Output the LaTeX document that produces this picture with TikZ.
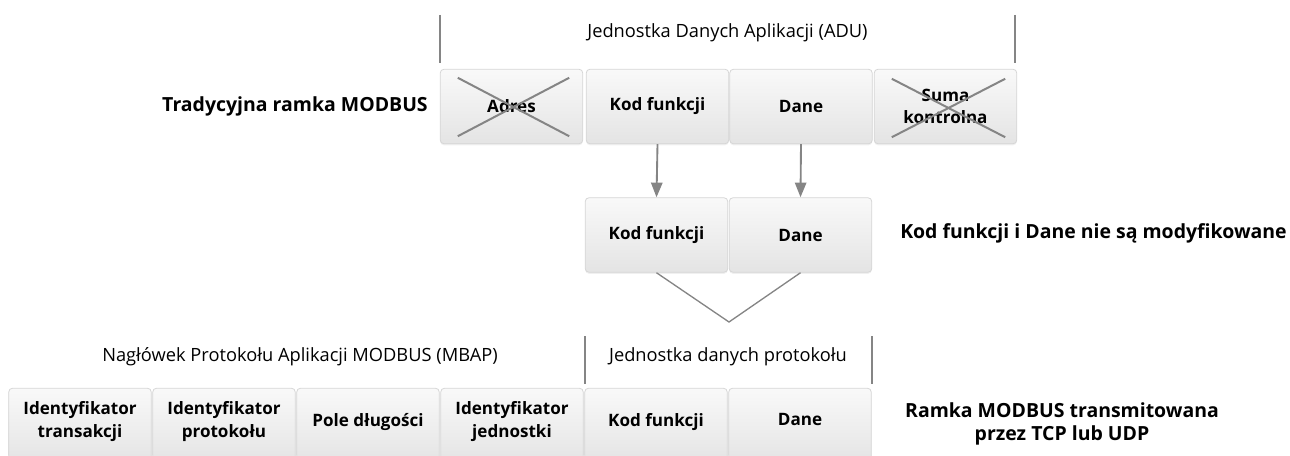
\documentclass[tikz,border=0pt]{standalone}
\usepackage{fontspec}
\setmainfont{Open Sans}
\usetikzlibrary{calc,arrows.meta,shadows}
\definecolor{linegray}{HTML}{858585}
\definecolor{boxtop}{HTML}{F9F9F9}
\definecolor{boxbot}{HTML}{E4E4E4}
\definecolor{boxedge}{HTML}{D6D6D6}
\tikzset{
  fieldbox/.style={draw=boxedge, line width=0.6pt, rounded corners=3pt,
    top color=boxtop, bottom color=boxbot, minimum width=107pt,
    minimum height=56pt, align=center, inner sep=1pt,
    font=\fontsize{12.8pt}{17pt}\selectfont\bfseries,
    drop shadow={opacity=0.12, shadow xshift=0pt, shadow yshift=-1.2pt}},
  crossline/.style={draw=linegray, line width=1.5pt},
  bracket/.style={draw=linegray, line width=1pt},
  flowarrow/.style={draw=linegray, line width=1.4pt, -{Triangle[length=11pt,width=8.5pt]}},
  vline/.style={draw=linegray, line width=1pt},
  toplabel/.style={font=\fontsize{13.7pt}{16pt}\selectfont, inner sep=0pt},
  sidelabel/.style={font=\fontsize{14.6pt}{17pt}\selectfont\bfseries, inner sep=0pt, align=center}
}
\begin{document}
\begin{tikzpicture}[x=0.75pt,y=-0.75pt]
\useasboundingbox (0,0) rectangle (1290,456);
\clip (0,0) rectangle (1290,456);
% top row
\node[fieldbox] (a1) at (511.5,106.5) {Adres};
\node[fieldbox] (a2) at (657.5,106.5) {Kod funkcji};
\node[fieldbox] (a3) at (801,106.5) {Dane};
\node[fieldbox] (a4) at (945.5,106.5) {Suma\\kontrolna};
\draw[crossline] ($(a1.north west)+(18,9)$) -- ($(a1.south east)+(-14,-8)$);
\draw[crossline] ($(a1.south west)+(18,-8)$) -- ($(a1.north east)+(-14,9)$);
\draw[crossline] ($(a4.north west)+(18,10)$) -- ($(a4.south east)+(-12,-7)$);
\draw[crossline] ($(a4.south west)+(18,-7)$) -- ($(a4.north east)+(-12,10)$);
% ADU bracket
\coordinate (adul1) at (440,15);
\coordinate (adul2) at (440,63);
\coordinate (adur1) at (1015,15);
\coordinate (adur2) at (1015,63);
\draw[bracket] (adul1) -- (adul2);
\draw[bracket] (adur1) -- (adur2);
\node[toplabel] (adu) at (727.5,33) {Jednostka Danych Aplikacji (ADU)};
\node[sidelabel, anchor=east] (trad) at (428,106) {Tradycyjna ramka MODBUS};
% middle row
\node[fieldbox] (m1) at (656.5,235) {Kod funkcji};
\node[fieldbox] (m2) at (800.5,235) {Dane};
\draw[flowarrow] (a2.south) -- (m1.north);
\draw[flowarrow] (a3.south) -- (m2.north);
\node[sidelabel, anchor=west] (mod) at (900,233) {Kod funkcji i Dane nie są modyfikowane};
\coordinate (vtip) at (729,322);
\draw[vline] (m1.south) -- (vtip) -- (m2.south);
% bottom labels
\coordinate (pl1) at (585,336);
\coordinate (pl2) at (585,384);
\coordinate (pr1) at (872,336);
\coordinate (pr2) at (872,384);
\draw[bracket] (pl1) -- (pl2);
\draw[bracket] (pr1) -- (pr2);
\node[toplabel] (mbap) at (300,357) {Nagłówek Protokołu Aplikacji MODBUS (MBAP)};
\node[toplabel] (pdu) at (728,357) {Jednostka danych protokołu};
% bottom row
\node[fieldbox] (b1) at (80,425.5) {Identyfikator\\transakcji\rule[-9pt]{0pt}{0pt}};
\node[fieldbox] (b2) at (224,425.5) {Identyfikator\\protokołu\rule[-9pt]{0pt}{0pt}};
\node[fieldbox] (b3) at (368,425.5) {Pole długości\rule[-9pt]{0pt}{0pt}};
\node[fieldbox] (b4) at (512,425.5) {Identyfikator\\jednostki\rule[-9pt]{0pt}{0pt}};
\node[fieldbox] (b5) at (656,425.5) {Kod funkcji\rule[-9pt]{0pt}{0pt}};
\node[fieldbox] (b6) at (800,425.5) {Dane\rule[-9pt]{0pt}{0pt}};
\node[sidelabel] (tcp) at (1062,424) {Ramka MODBUS transmitowana\\przez TCP lub UDP};
\end{tikzpicture}
\end{document}
